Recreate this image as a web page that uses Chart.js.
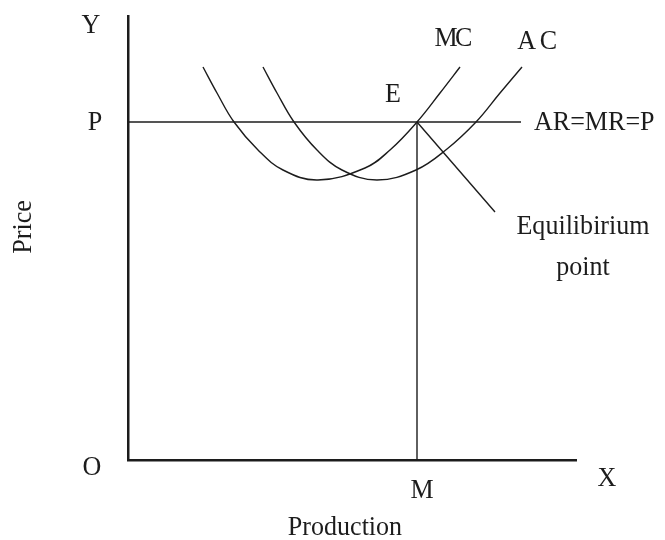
<!DOCTYPE html>
<html>
<head>
<meta charset="utf-8">
<script src="https://cdn.jsdelivr.net/npm/chart.js@4"></script>
<style>
  html, body { margin: 0; padding: 0; background: #fff; }
  #wrap { width: 665px; height: 540px; position: relative; }
</style>
</head>
<body>
<div id="wrap"><canvas id="graph"></canvas></div>
<script>
// -------------------------
// DATA (production, price)
// -------------------------
const mcX = [75, 89, 106, 130, 155, 190, 237, 262, 289, 312, 332];
const mcY = [393, 367, 338, 310, 290, 280, 292, 310, 338, 367, 393];

const acX = [135, 149, 166, 189, 214, 249, 288, 319, 348, 372, 394];
const acY = [393, 367, 338, 310, 290, 280, 290, 311, 338, 367, 393];

const priceLevel = 338;      // P
const outputLevel = 289;     // M
const priceLineEnd = 393;
const pointerEnd = [367, 248]; // end of the "Equilibirium point" pointer

const axisMax = [448, 444];

const axisLetters = ["Y", "O", "X", "P", "M"];
const curveNames = ["MC", "AC", "AR=MR=P", "E"];
const noteLines = ["Equilibirium", "point"];
const axisTitles = ["Price", "Production"];

const INK = "#1c1c1c";
const FONT = "28px 'Liberation Serif', 'DejaVu Serif', serif";

function pts(xs, ys) {
  return xs.map((x, i) => ({ x: x, y: ys[i] }));
}

// slightly condensed text, like the printed figure
function drawText(ctx, str, x, y, align, spacing) {
  ctx.save();
  ctx.translate(x, y);
  ctx.scale(0.93, 1);
  ctx.textAlign = align || "center";
  ctx.letterSpacing = spacing || "0px";
  ctx.fillText(str, 0, 0);
  ctx.restore();
}

// -------------------------
// TEXT PLUGIN
// -------------------------
const textPlugin = {
  id: "textLabels",
  afterDraw(chart) {
    const ctx = chart.ctx;
    const sx = chart.scales.x;
    const sy = chart.scales.y;
    const a = chart.chartArea;
    const px = v => sx.getPixelForValue(v);
    const py = v => sy.getPixelForValue(v);

    ctx.save();
    ctx.fillStyle = INK;
    ctx.font = FONT;
    ctx.textBaseline = "middle";

    // axis letters
    drawText(ctx, axisLetters[0], a.left - 37, a.top + 10);
    drawText(ctx, axisLetters[1], a.left - 36, a.bottom + 8);
    drawText(ctx, axisLetters[2], a.right + 31, a.bottom + 19);
    drawText(ctx, axisLetters[3], a.left - 33, py(priceLevel) + 1);
    drawText(ctx, axisLetters[4], px(outputLevel) + 5, a.bottom + 31);

    // curve names
    drawText(ctx, curveNames[0], px(324), py(421), "center", "-3px");
    drawText(ctx, curveNames[1], px(411), py(418), "center", "4px");
    drawText(ctx, curveNames[2], px(priceLineEnd) + 13, py(priceLevel) + 1, "left");
    drawText(ctx, curveNames[3], px(265), py(365));

    // note
    drawText(ctx, noteLines[0], px(455), py(233));
    drawText(ctx, noteLines[1], px(455), py(192));

    // titles
    drawText(ctx, axisTitles[1], (a.left + a.right) / 2 - 7, a.bottom + 68);
    ctx.translate(24, 227);
    ctx.rotate(-Math.PI / 2);
    drawText(ctx, axisTitles[0], 0, 0);
    ctx.restore();
  }
};

// -------------------------
// CHART
// -------------------------
function initChart() {
  const ctx = document.getElementById("graph").getContext("2d");

  const lineStyle = {
    showLine: true,
    pointRadius: 0,
    borderColor: INK,
    borderWidth: 1.4,
    fill: false
  };

  new Chart(ctx, {
    type: "scatter",
    data: {
      datasets: [
        Object.assign({ label: "MC", data: pts(mcX, mcY), tension: 0.4 }, lineStyle),
        Object.assign({ label: "AC", data: pts(acX, acY), tension: 0.4 }, lineStyle),
        Object.assign({ label: "AR=MR=P", data: [{ x: 0, y: priceLevel }, { x: priceLineEnd, y: priceLevel }] }, lineStyle),
        Object.assign({ label: "OM", data: [{ x: outputLevel, y: 0 }, { x: outputLevel, y: priceLevel }] }, lineStyle),
        Object.assign({ label: "pointer", data: [{ x: outputLevel, y: priceLevel }, { x: pointerEnd[0], y: pointerEnd[1] }] }, lineStyle)
      ]
    },
    options: {
      responsive: true,
      maintainAspectRatio: false,
      animation: false,
      layout: { padding: { left: 128, right: 89, top: 16, bottom: 80 } },
      plugins: {
        legend: { display: false },
        tooltip: { enabled: false }
      },
      scales: {
        x: {
          type: "linear",
          min: 0,
          max: axisMax[0],
          grid: { display: false },
          ticks: { display: false },
          border: { display: true, color: INK, width: 2.5 },
          afterFit: s => { s.height = 0; }
        },
        y: {
          type: "linear",
          min: 0,
          max: axisMax[1],
          grid: { display: false },
          ticks: { display: false },
          border: { display: true, color: INK, width: 2.5 },
          afterFit: s => { s.width = 0; }
        }
      }
    },
    plugins: [textPlugin]
  });
}

initChart();
</script>
</body>
</html>
